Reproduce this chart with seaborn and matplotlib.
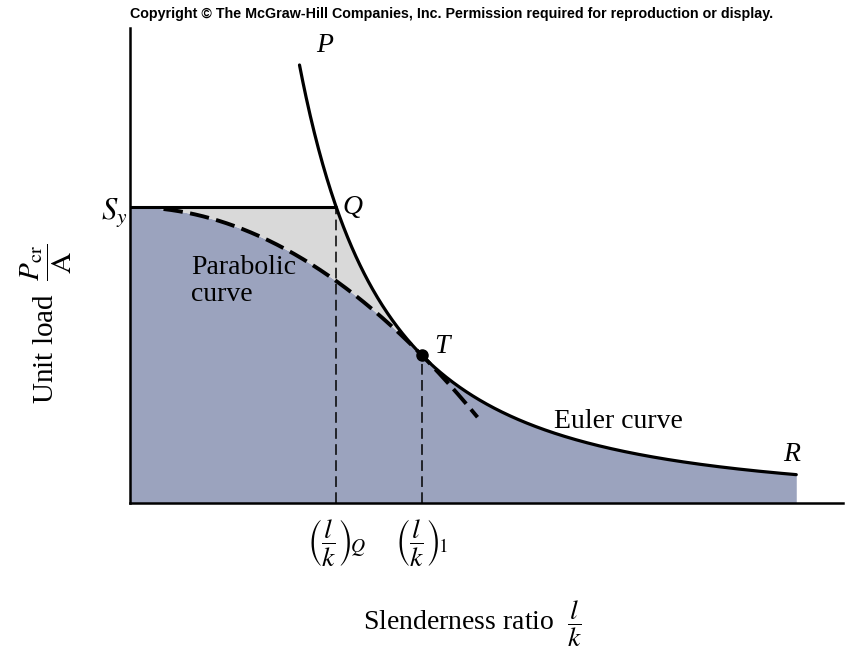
import numpy as np
import matplotlib
matplotlib.use("Agg")
import matplotlib.pyplot as plt
import seaborn as sns

# Material constants (kpsi)
Sy = 40.0          # yield strength
E = 30000.0        # modulus of elasticity

# Range of the slenderness axis and the drawn portions of each curve
lk_max = 297.5
pa_max = 64.2
euler_top = 59.2   # load where the Euler branch starts (point P)
euler_end = 278.0  # slenderness at point R
parab_end = 145.0  # where the dashed parabola is cut off

# Characteristic slenderness ratios
lk_Q = np.pi * np.sqrt(E / Sy)            # Euler curve meets Sy
lk_1 = np.sqrt(2 * np.pi ** 2 * E / Sy)   # tangent point T
pa_T = Sy / 2

tick_labels = [r"$\left(\dfrac{l}{k}\right)_{\!Q}$", r"$\left(\dfrac{l}{k}\right)_{\!1}$"]


def euler(lk):
    return np.pi ** 2 * E / lk ** 2


def parabola(lk):
    return Sy - (Sy / (2 * np.pi)) ** 2 / E * lk ** 2


sns.set_theme(style="white")
plt.rcParams["font.family"] = ["Liberation Serif", "DejaVu Serif"]
plt.rcParams["mathtext.fontset"] = "stix"
plt.rcParams["text.color"] = "black"
plt.rcParams["axes.labelcolor"] = "black"
plt.rcParams["xtick.color"] = "black"
plt.rcParams["ytick.color"] = "black"

fig = plt.figure(figsize=(8.51, 6.52), dpi=100)
ax = fig.add_axes([130 / 851, 1 - 503 / 652, 713 / 851, 475 / 652])

blue = "#9ba3be"
grey = "#d9d9d9"

# Shaded regions
x_all = np.linspace(0, euler_end, 800)
y_all = np.where(x_all < lk_1, parabola(x_all), euler(np.maximum(x_all, 1e-6)))
ax.fill_between(x_all, 0, y_all, color=blue, lw=0, zorder=1)

x_g = np.linspace(0, lk_1, 400)
top_g = np.minimum(Sy, euler(np.maximum(x_g, 1e-6)))
ax.fill_between(x_g, parabola(x_g), top_g, color=grey, lw=0, zorder=1)

# Euler curve P-Q-T-R
x_e = np.linspace(np.sqrt(np.pi ** 2 * E / euler_top), euler_end, 600)
sns.lineplot(x=x_e, y=euler(x_e), ax=ax, color="black", lw=2.3, zorder=4)

# Parabolic (Johnson) curve
x_p = np.linspace(14, parab_end, 400)
sns.lineplot(x=x_p, y=parabola(x_p), ax=ax, color="black", lw=2.8,
             linestyle=(0, (5.0, 1.9)), zorder=3)

# Yield strength line
sns.lineplot(x=[0, lk_Q], y=[Sy, Sy], ax=ax, color="black", lw=2.2, zorder=4)

# Vertical guides
ax.plot([lk_Q, lk_Q], [0, Sy], color="black", lw=1.1, linestyle=(0, (7, 3.5)), zorder=3)
ax.plot([lk_1, lk_1], [0, pa_T], color="black", lw=1.1, linestyle=(0, (7, 3.5)), zorder=3)

# Tangent point
ax.plot([lk_1], [pa_T], "o", color="black", ms=8, zorder=5)

# Point labels
lbl = dict(fontsize=20, style="italic", zorder=6)
ax.text(77.5, 61.8, "P", ha="left", va="center", **lbl)
ax.text(88.5, 40.0, "Q", ha="left", va="center", **lbl)
ax.text(127, 21.2, "T", ha="left", va="center", **lbl)
ax.text(276, 6.6, "R", ha="center", va="center", **lbl)

ax.text(25.5, 30.0, "Parabolic\ncurve", fontsize=20, ha="left", va="center",
        linespacing=1.1, zorder=6)
ax.text(177, 11.0, "Euler curve", fontsize=20, ha="left", va="center", zorder=6)

# Axes
ax.set_xlim(0, lk_max)
ax.set_ylim(0, pa_max)
for s in ["top", "right"]:
    ax.spines[s].set_visible(False)
for s in ["left", "bottom"]:
    ax.spines[s].set_color("black")
    ax.spines[s].set_linewidth(1.8)

ax.set_xticks([lk_Q, lk_1])
ax.set_xticklabels(tick_labels, fontsize=20)
ax.set_yticks([Sy])
ax.set_yticklabels([r"$S_y$"], fontsize=22)
ax.tick_params(axis="both", length=0)
ax.tick_params(axis="x", pad=10)
ax.tick_params(axis="y", pad=2)

ax.set_xlabel(r"Slenderness ratio  $\dfrac{l}{k}$", fontsize=20)
ax.set_ylabel(r"Unit load  $\dfrac{P_{\rm cr}}{\rm A}$", fontsize=21)
ax.xaxis.set_label_coords((473 - 130) / 713, -(598 - 503) / 475)
ax.yaxis.set_label_coords(-(130 - 74) / 713, (503 - 324) / 475)

fig.text(0.531, 0.979, "Copyright \u00a9 The McGraw-Hill Companies, Inc. Permission required for reproduction or display.",
         ha="center", va="center", fontsize=10.3, fontweight="bold",
         family=["Liberation Sans", "DejaVu Sans"])

fig.savefig("out.png", dpi=100)
